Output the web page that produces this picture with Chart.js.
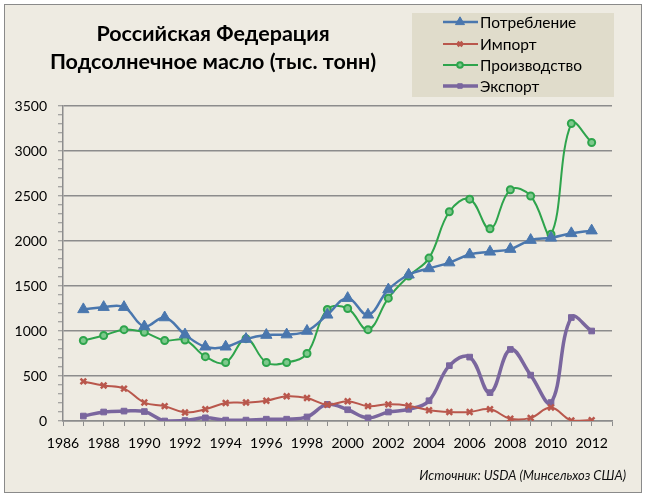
<!DOCTYPE html>
<html>
<head>
<meta charset="utf-8">
<script src="https://cdn.jsdelivr.net/npm/chart.js@4/dist/chart.umd.min.js"></script>
<style>
html,body{margin:0;padding:0;background:#ffffff;}
canvas{display:block;}
</style>
</head>
<body>
<canvas id="c" width="648" height="498"></canvas>
<script>
// ---- data ----
const years = [1987,1988,1989,1990,1991,1992,1993,1994,1995,1996,1997,1998,1999,2000,2001,2002,2003,2004,2005,2006,2007,2008,2009,2010,2011,2012];
const consumption = [1240,1265,1265,1050,1150,960,825,825,910,955,960,1000,1180,1365,1180,1460,1625,1695,1760,1850,1880,1910,2010,2035,2085,2115];
const imports = [440,395,360,205,165,95,130,200,205,225,275,255,180,220,165,185,170,120,100,100,130,25,35,150,5,10];
const production = [895,950,1015,985,895,900,715,650,915,650,650,750,1240,1250,1015,1365,1610,1810,2325,2465,2135,2570,2500,2075,3305,3095];
const exports = [55,100,110,105,0,5,35,10,10,20,20,45,185,125,35,100,130,225,615,710,315,795,510,205,1150,1000];
const seriesNames = ['Потребление','Импорт','Производство','Экспорт'];
const titleLines = ['Российская Федерация','Подсолнечное масло (тыс. тонн)'];
const sourceText = 'Источник: USDA (Минсельхоз США)';
const xMin = 1986, xMax = 2013, yMin = 0, yMax = 3500;

const pts = arr => arr.map((v,i)=>({x:years[i], y:v}));

const BG = '#eeebe2';
const GRID = '#8c8c8c';

const decor = {
  id:'decor',
  beforeDraw(chart){
    const c = chart.ctx;
    c.save();
    c.fillStyle = '#ffffff';
    c.fillRect(0,0,chart.width,chart.height);
    c.fillStyle = BG;
    c.fillRect(4,4,638,489);
    c.strokeStyle = '#8a8a8a';
    c.lineWidth = 1;
    c.strokeRect(4.5,4.5,637,488);
    // legend box
    c.fillStyle = '#e0dccb';
    c.fillRect(412,13,202,84);
    c.restore();
  },
  afterDraw(chart){
    const c = chart.ctx;
    c.save();
    // title
    c.fillStyle = '#000';
    c.font = 'bold 21.5px Lato';
    c.textAlign = 'center';
    c.textBaseline = 'middle';
    c.fillText(titleLines[0], 213, 34);
    c.fillText(titleLines[1], 213, 62);
    // legend
    const ys = [22,44,65,86];
    c.font = '15.5px Lato';
    c.textAlign = 'left';
    chart.data.datasets.forEach((ds,i)=>{
      const y = ys[i];
      c.strokeStyle = ds.borderColor;
      c.lineWidth = ds.borderWidth;
      c.beginPath();
      c.moveTo(443,y); c.lineTo(478,y); c.stroke();
      c.fillStyle = ds.pointBackgroundColor;
      c.strokeStyle = ds.pointBorderColor;
      c.lineWidth = ds.pointBorderWidth;
      Chart.helpers.drawPoint(c,{pointStyle:ds.pointStyle,radius:ds.pointRadius*0.8,borderWidth:ds.pointBorderWidth,rotation:0},460,y);
      c.fillStyle = '#000';
      c.fillText(ds.label, 480, y+1);
    });
    // source
    c.font = 'italic 13px Lato';
    c.textAlign = 'right';
    c.fillStyle = '#111';
    c.fillText(sourceText, 626, 476);
    c.restore();
  }
};

document.fonts.load('15px Lato').then(()=>document.fonts.load('bold 20px Lato')).then(()=>document.fonts.load('italic 12px Lato')).catch(()=>{}).then(draw);

function draw(){
Chart.defaults.font.family = 'Lato';
Chart.defaults.color = '#000';
new Chart(document.getElementById('c'), {
  type:'line',
  data:{
    datasets:[
      {label:seriesNames[0], data:pts(consumption), borderColor:'#4a77ae', borderWidth:2.5, pointStyle:'triangle', pointRadius:6.5, pointBackgroundColor:'#4a77ae', pointBorderColor:'#4a77ae', pointBorderWidth:1, tension:0.4},
      {label:seriesNames[1], data:pts(imports), borderColor:'#b9574c', borderWidth:2, pointStyle:'crossRot', pointRadius:4, pointBackgroundColor:'#b9574c', pointBorderColor:'#b9574c', pointBorderWidth:2.5, tension:0.4},
      {label:seriesNames[2], data:pts(production), borderColor:'#2ea44c', borderWidth:2, pointStyle:'circle', pointRadius:3.5, pointBackgroundColor:'#7ec98c', pointBorderColor:'#2ea44c', pointBorderWidth:2, tension:0.4},
      {label:seriesNames[3], data:pts(exports), borderColor:'#7a669e', borderWidth:3.5, pointStyle:'rect', pointRadius:4, pointBackgroundColor:'#7a669e', pointBorderColor:'#7a669e', pointBorderWidth:1, tension:0.4}
    ]
  },
  options:{
    responsive:false,
    animation:false,
    layout:{padding:{left:0,top:106,right:36,bottom:0}},
    plugins:{legend:{display:false}, title:{display:false}, tooltip:{enabled:false}},
    scales:{
      x:{
        type:'linear', min:xMin, max:xMax,
        afterFit(s){ s.height = 77; },
        ticks:{stepSize:1, autoSkip:false, maxRotation:0, padding:9, font:{size:14},
          callback:v=> (v%2===0 && v<=2012) ? String(v) : ''},
        grid:{drawOnChartArea:false, drawTicks:true, tickLength:5, tickColor:GRID, tickWidth:1},
        border:{display:true, color:GRID, width:1.5}
      },
      y:{
        min:yMin, max:yMax,
        afterFit(s){ s.width = 63; },
        ticks:{stepSize:100, autoSkip:false, padding:11, font:{size:14},
          callback:v=> (v%500===0) ? String(v) : ''},
        grid:{drawTicks:true, tickLength:5, tickColor:GRID, tickWidth:1,
          color:ctx=> (ctx.tick && ctx.tick.value%500===0) ? GRID : 'rgba(0,0,0,0)', lineWidth:1.5},
        border:{display:true, color:GRID, width:1.5}
      }
    }
  },
  plugins:[decor]
});
}
</script>
</body>
</html>
